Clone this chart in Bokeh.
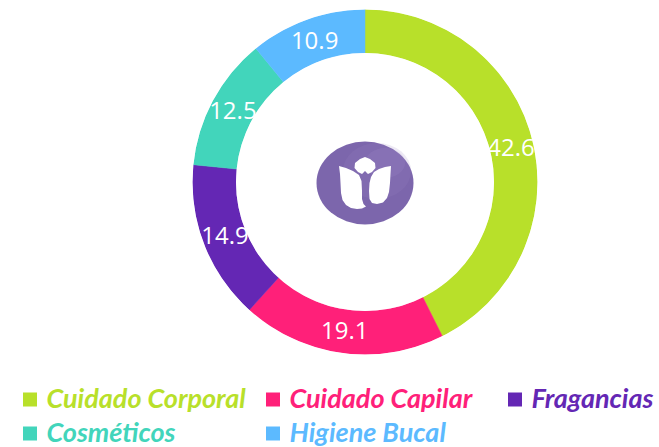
import numpy as np
from bokeh.plotting import figure
from bokeh.models import Range1d, ColumnDataSource
from bokeh.core.properties import value
from bokeh.embed import file_html
from bokeh.resources import INLINE

# ---- data ----
categories = ["Cuidado Corporal", "Cuidado Capilar", "Fragancias", "Cosméticos", "Higiene Bucal"]
values = [42.6, 19.1, 14.9, 12.5, 10.9]
colors = ["#b8e02a", "#ff2079", "#6427b4", "#42d5bb", "#5cbaff"]

# ---- layout constants (screen px) ----
W, H = 659, 447
CX, CY = 364.5, 181.5          # donut centre (screen)
R_OUT, R_IN, R_LAB = 172.5, 129.0, 150.0

def sy(y):
    return H - y

p = figure(width=W, height=H, x_range=Range1d(0, W), y_range=Range1d(0, H),
           output_backend="svg", toolbar_location=None, min_border=0)
p.axis.visible = False
p.grid.visible = False
p.outline_line_color = None
p.background_fill_color = "white"
p.border_fill_color = "white"

vals = np.array(values)
frac = vals / vals.sum()
cum_end = np.cumsum(frac)
cum_start = cum_end - frac
start_angle = np.pi / 2 - 2 * np.pi * cum_end
end_angle = np.pi / 2 - 2 * np.pi * cum_start
mid = 2 * np.pi * (cum_start + cum_end) / 2

src = ColumnDataSource(dict(
    cat=categories, val=values, color=colors,
    start=start_angle, end=end_angle,
    lx=CX + R_LAB * np.sin(mid), ly=sy(CY - R_LAB * np.cos(mid)),
    lab=[f"{v:.1f}" for v in values],
))

p.annular_wedge(x=CX, y=sy(CY), inner_radius=R_IN, outer_radius=R_OUT,
                start_angle="start", end_angle="end", direction="anticlock",
                fill_color="color", line_color="color", line_width=0.5, source=src)

p.text(x="lx", y="ly", text="lab", source=src, text_color="white",
       text_font=value("Open Sans"), text_font_size="24px",
       text_align="center", text_baseline="middle")

# clip labels to ring: white masks outside and inside
p.annulus(x=CX, y=sy(CY), inner_radius=R_OUT, outer_radius=900,
          fill_color="white", line_color=None)
p.circle(x=CX, y=sy(CY), radius=R_IN, fill_color="white", line_color=None)

# ---- central logo ----
LX, LY = 364.5, 182.5
p.ellipse(x=LX, y=sy(LY), width=97, height=83, fill_color="#7c66ac", line_color=None)
p.ellipse(x=LX + 12, y=sy(LY - 12), width=68, height=56, fill_color="#9a84c2",
          fill_alpha=0.18, line_color=None)
p.ellipse(x=LX + 20, y=sy(LY - 20), width=40, height=30, fill_color="#a892cc",
          fill_alpha=0.18, line_color=None)
bud = [(0, -26), (5, -24), (10, -20), (10.5, -15), (7, -11), (3, -9), (0, -12),
       (-3, -9), (-7, -11), (-10.5, -15), (-10, -20), (-5, -24)]
left_petal = [(-26, -17), (-19, -15), (-12, -12), (-6, -8), (-3.5, -2), (-3, 8),
              (-3, 16), (-1.5, 21), (1, 23.5), (-3, 25.5), (-8, 26), (-14, 25),
              (-19, 22), (-22.5, 17), (-24, 10), (-24.5, 0), (-25, -9)]
right_petal = [(26, -17), (25.5, -9), (25, 0), (24, 9), (22, 15), (18, 19.5),
               (12, 21), (7, 20), (4.5, 16), (4, 8), (4.5, 0), (6, -6), (9, -11),
               (14, -14), (20, -16)]
shapes = [bud, left_petal, right_petal]
p.patches(xs=[[LX + dx for dx, dy in s] for s in shapes],
          ys=[[sy(LY + dy) for dx, dy in s] for s in shapes],
          fill_color="white", line_color=None)

# ---- legend (manual, coloured labels) ----
col_x = [22, 265, 507]
row_y = [399, 433]
pos = [(0, 0), (1, 0), (2, 0), (0, 1), (1, 1)]
mx = [col_x[c] + 7.5 for c, r in pos]
my = [sy(row_y[r]) for c, r in pos]
tx = [col_x[c] + 24 for c, r in pos]
ty = [sy(row_y[r] - 2) for c, r in pos]
lsrc = ColumnDataSource(dict(mx=mx, my=my, tx=tx, ty=ty, cat=categories, color=colors))
p.rect(x="mx", y="my", width=14, height=14, fill_color="color", line_color=None, source=lsrc)
p.text(x="tx", y="ty", text="cat", text_color="color", source=lsrc,
       text_font=value("Lato"), text_font_size="27px", text_font_style="bold italic",
       text_align="left", text_baseline="middle")

open("out.html", "w").write(file_html(p, INLINE))
